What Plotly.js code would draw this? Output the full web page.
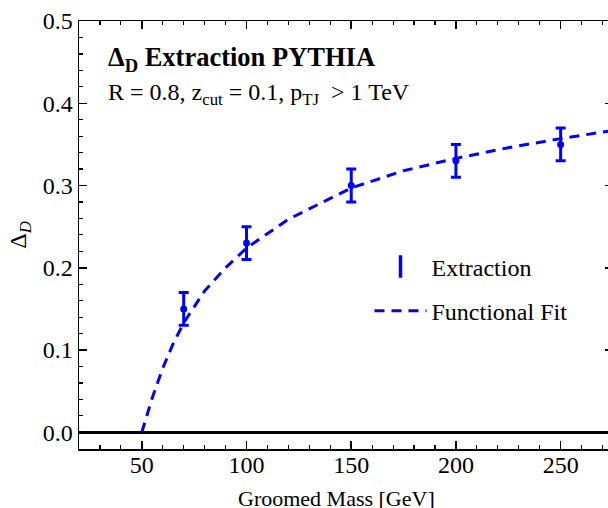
<!DOCTYPE html>
<html>
<head>
<meta charset="utf-8">
<script src="https://cdn.plot.ly/plotly-3.0.1.min.js"></script>
<style>
html,body{margin:0;padding:0;overflow:hidden;background:#fff;}
#chart{width:620px;height:508px;}
</style>
</head>
<body>
<div id="chart"></div>
<script>
// Extraction points
var massPoints = [70, 100, 150, 200, 250];
var deltaValues = [0.15, 0.23, 0.30, 0.33, 0.35];
var deltaErrors = [0.02, 0.02, 0.02, 0.02, 0.02];

// Functional fit curve
var fitMass = [50, 55, 60, 65, 70, 80, 90, 100, 120, 150, 175, 200, 225, 250, 275];
var fitDelta = [0, 0.042, 0.078, 0.108, 0.133, 0.172, 0.200, 0.224, 0.259, 0.297, 0.318, 0.333, 0.346, 0.357, 0.367];

// Tick labels
var xTicks = [50, 100, 150, 200, 250];
var yTicks = [0.0, 0.1, 0.2, 0.3, 0.4, 0.5];

var blue = '#0000ff';
var serif = '"Liberation Serif", "Times New Roman", Times, serif';

var traces = [
  {
    x: fitMass, y: fitDelta, type: 'scatter', mode: 'lines',
    name: 'Functional Fit', legendrank: 2, legendgroup: 'b',
    line: {color: blue, width: 3, dash: '10px,7px'},
    hoverinfo: 'skip'
  },
  {
    x: massPoints, y: deltaValues, type: 'scatter', mode: 'markers',
    name: 'Extraction', showlegend: false,
    marker: {color: blue, size: 7},
    error_y: {type: 'data', array: deltaErrors, visible: true, color: blue, thickness: 3, width: 5}
  },
  {
    x: [null], y: [null], type: 'scatter', mode: 'markers',
    name: 'Extraction', legendrank: 1, legendgroup: 'a',
    marker: {color: blue, size: 20, symbol: 'line-ns-open', line: {color: blue, width: 3.5}}
  }
];

var layout = {
  width: 620, height: 508,
  margin: {l: 79, r: 7, t: 21, b: 59},
  paper_bgcolor: '#fff', plot_bgcolor: '#fff',
  font: {family: serif, color: '#000', size: 24},
  showlegend: true,
  legend: {
    x: 0.544, y: 0.478, xanchor: 'left', yanchor: 'top',
    itemwidth: 52,
    bgcolor: 'rgba(0,0,0,0)', font: {family: serif, size: 24, color: '#000'},
    tracegroupgap: 10, traceorder: 'grouped'
  },
  xaxis: {
    range: [20, 275], showgrid: false, zeroline: false,
    showline: true, linecolor: '#000', linewidth: 1.5, mirror: 'ticks',
    ticks: 'inside', ticklen: 8, tickwidth: 1.5, tickcolor: '#000',
    tickvals: xTicks, ticktext: xTicks.map(String),
    tickfont: {family: serif, size: 24},
    ticklabelstandoff: -6,
    minor: {dtick: 10, tick0: 0, ticks: 'inside', ticklen: 4, tickwidth: 1.2, tickcolor: '#000', showgrid: false}
  },
  yaxis: {
    range: [-0.0203, 0.5], showgrid: false,
    zeroline: true, zerolinecolor: '#000', zerolinewidth: 2.5,
    showline: true, linecolor: '#000', linewidth: 1.5, mirror: 'ticks',
    ticks: 'inside', ticklen: 8, tickwidth: 1.5, tickcolor: '#000',
    tickvals: yTicks, ticktext: yTicks.map(function(v){return v.toFixed(1);}),
    tickfont: {family: serif, size: 24},
    minor: {dtick: 0.02, tick0: 0, ticks: 'inside', ticklen: 4, tickwidth: 1.2, tickcolor: '#000', showgrid: false},
    title: {text: 'Δ<sub><i>D</i></sub>', font: {family: serif, size: 24}, standoff: 9}
  },
  annotations: [
    {xref: 'paper', yref: 'paper', x: 0.05, y: 0.912, xanchor: 'left', yanchor: 'middle', showarrow: false,
     text: '<b>Δ<sub>D</sub> Extraction PYTHIA</b>', font: {family: serif, size: 26.5}},
    {xref: 'paper', yref: 'paper', x: 0.05, y: 0.83, xanchor: 'left', yanchor: 'middle', showarrow: false,
     text: 'R = 0.8, z<sub>cut</sub> = 0.1, p<sub>TJ</sub>  > 1 TeV', font: {family: serif, size: 24}},
    {xref: 'paper', yref: 'paper', x: 0.482, y: 0, yshift: -35, xanchor: 'center', yanchor: 'top', showarrow: false,
     text: 'Groomed Mass [GeV]', font: {family: serif, size: 22}}
  ]
};

Plotly.newPlot('chart', traces, layout, {displayModeBar: false, staticPlot: true});
</script>
</body>
</html>
